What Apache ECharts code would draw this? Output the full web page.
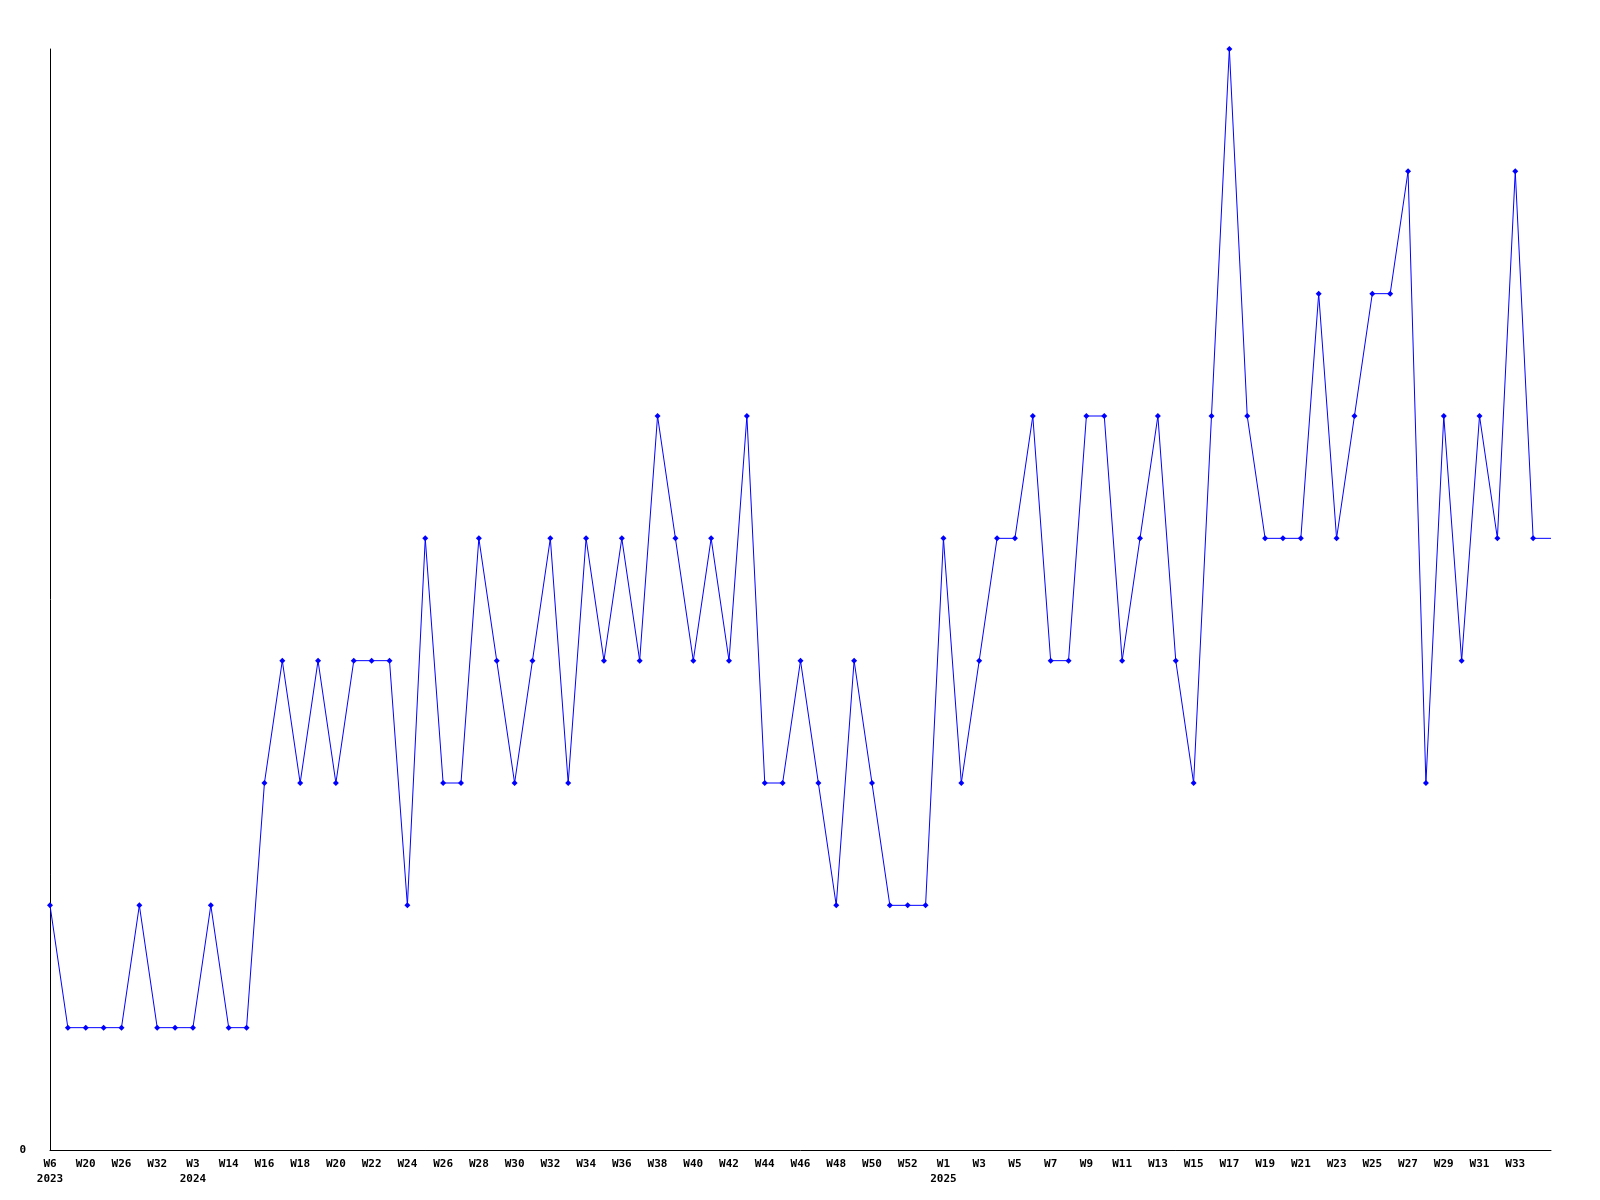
<!DOCTYPE html>
<html>
<head>
<meta charset="utf-8">
<script src="https://cdn.jsdelivr.net/npm/echarts@6/dist/echarts.min.js"></script>
<style>
html,body{margin:0;padding:0;background:#fff;}
#chart{width:1600px;height:1200px;}
</style>
</head>
<body>
<div id="chart"></div>
<script>
// Week categories (year-week). Odd-index labels are hidden in the reference; their names are estimates.
const years = [
  '2023','2023','2023','2023','2023','2023','2023','2023',
  '2024','2024'
];
const weeksEarly = ['W6','W13','W20','W23','W26','W29','W32','W45','W3','W9'];
const weeks2024 = ['W14','W15','W16','W17','W18','W19','W20','W21','W22','W23','W24','W25','W26','W27','W28','W29','W30','W31','W32','W33','W34','W35','W36','W37','W38','W39','W40','W41','W42','W43','W44','W45','W46','W47','W48','W49','W50','W51','W52','W53'];
const weeks2025 = ['W1','W2','W3','W4','W5','W6','W7','W8','W9','W10','W11','W12','W13','W14','W15','W16','W17','W18','W19','W20','W21','W22','W23','W24','W25','W26','W27','W28','W29','W30','W31','W32','W33','W34','W35'];

const values = [
  2,1,1,1,1,2,1,1,1,2,
  1,1,3,4,3,4,3,4,4,4,
  2,5,3,3,5,4,3,4,5,3,
  5,4,5,4,6,5,4,5,4,6,
  3,3,4,3,2,4,3,2,2,2,
  5,3,4,5,5,6,4,4,6,6,
  4,5,6,4,3,6,9,6,5,5,
  5,7,5,6,7,7,8,3,6,4,
  6,5,8,5,5
];

const categories = [];
const catYears = [];
weeksEarly.forEach((w,i)=>{categories.push(w); catYears.push(years[i]);});
weeks2024.forEach(w=>{categories.push(w); catYears.push('2024');});
weeks2025.forEach(w=>{categories.push(w); catYears.push('2025');});

const yMin = 0, yMax = 9;

const seriesData = values.map((v,i)=> i === values.length-1 ? {value:v, symbolSize:0} : v);

const chart = echarts.init(document.getElementById('chart'));
const labelFont = {fontFamily:'DejaVu Sans Mono', fontWeight:'bold', fontSize:11, color:'#000'};
const lastIdx = categories.length - 1;
chart.setOption({
  animation:false,
  backgroundColor:'#fff',
  grid:{left:50, right:49, top:49, bottom:50, containLabel:false},
  xAxis:{
    type:'category',
    data:categories,
    boundaryGap:false,
    axisLine:{show:true, lineStyle:{color:'#000', width:1}},
    axisTick:{show:false},
    splitLine:{show:false},
    axisLabel:Object.assign({
      interval:function(i){return i%2===0 && i !== lastIdx;},
      margin:7,
      lineHeight:15,
      formatter:function(val, idx){
        const j = idx-2;
        const isFirstShown = (j < 0) || catYears[j] !== catYears[idx];
        return isFirstShown ? val + '\n' + catYears[idx] : val;
      }
    }, labelFont)
  },
  yAxis:{
    type:'value',
    min:yMin, max:yMax, interval:9,
    axisLine:{show:true, lineStyle:{color:'#000', width:1}},
    axisTick:{show:false},
    splitLine:{show:false},
    axisLabel:Object.assign({
      margin:24,
      formatter:function(v){return v===0 ? '0' : '';}
    }, labelFont)
  },
  series:[{
    type:'line',
    data:seriesData,
    symbol:'diamond',
    symbolSize:6,
    showAllSymbol:true,
    lineStyle:{color:'#0000ff', width:1},
    itemStyle:{color:'#0000ff'}
  }]
});
</script>
</body>
</html>
